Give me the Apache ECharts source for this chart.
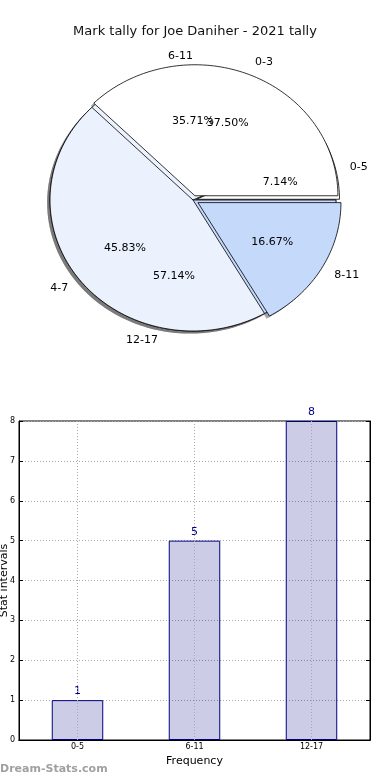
<!DOCTYPE html>
<html>
<head>
<meta charset="utf-8">
<script src="https://cdn.jsdelivr.net/npm/echarts@6/dist/echarts.min.js"></script>
<style>
html,body{margin:0;padding:0;background:#fff;}
#chart{width:390px;height:780px;}
</style>
</head>
<body>
<div id="chart"></div>
<script>
// ---- data ----
const titleText = 'Mark tally for Joe Daniher - 2021 tally';
const outerCats = ['0-3', '4-7', '8-11'];
const outerValues = [9, 11, 4];
const innerCats = ['0-5', '6-11', '12-17'];
const innerValues = [1, 5, 8];
const barCats = ['0-5', '6-11', '12-17'];
const barValues = [1, 5, 8];
const yTickMax = 8;

// ---- styles ----
const sliceColors = ['#ffffff', '#ebf1fd', '#c5d9fb'];
const outerExplode = [0.035, 0, 0.04];
const innerExplode = [0.025, 0, 0];
const FONT = 'DejaVu Sans';

function buildSlices(cats, values, explode) {
  const total = values.reduce((a, b) => a + b, 0);
  let cum = 0;
  return values.map((v, i) => {
    const t1 = cum / total * 360;
    cum += v;
    const t2 = cum / total * 360;
    const mid = (t1 + t2) / 2 * Math.PI / 180;
    return {
      name: cats[i], value: v, pct: (v / total * 100).toFixed(2) + '%',
      t1: t1, t2: t2, mid: mid,
      ex: explode[i] * Math.cos(mid), ey: explode[i] * Math.sin(mid),
      color: sliceColors[i % sliceColors.length]
    };
  });
}
const outerSlices = buildSlices(outerCats, outerValues, outerExplode);
const innerSlices = buildSlices(innerCats, innerValues, innerExplode);
const allSlices = innerSlices.concat(outerSlices);

function wedgePoints(api, s, dx, dy) {
  const steps = Math.max(2, Math.ceil((s.t2 - s.t1) / 1.5));
  const pts = [api.coord([s.ex + dx, s.ey + dy])];
  for (let k = 0; k <= steps; k++) {
    const a = (s.t1 + (s.t2 - s.t1) * k / steps) * Math.PI / 180;
    pts.push(api.coord([s.ex + dx + Math.cos(a), s.ey + dy + Math.sin(a)]));
  }
  return pts;
}
function wedgeSeries(slices, z) {
  return {
    type: 'custom', xAxisIndex: 0, yAxisIndex: 0, clip: false, silent: true, z: z,
    data: slices.map(s => ({ name: s.name, value: [0, 0, s.value] })),
    renderItem: function (params, api) {
      const s = slices[params.dataIndex];
      return { type: 'polygon', shape: { points: wedgePoints(api, s, 0, 0) },
        style: { fill: s.color, stroke: '#000', lineWidth: 0.8, lineJoin: 'miter' } };
    }
  };
}

const option = {
  animation: false,
  backgroundColor: '#fff',
  title: {
    text: titleText, left: 'center', top: 20,
    textStyle: { fontFamily: FONT, fontSize: 13, fontWeight: 'normal', color: '#111' }
  },
  graphic: [{
    type: 'text', left: 0, top: 764,
    style: { text: 'Dream-Stats.com', fill: '#a0a0a0', font: 'bold 11px "DejaVu Sans"' }
  }],
  grid: [
    { left: 50, top: 69, width: 286, height: 262, show: false, outerBoundsMode: 'none', containLabel: false },
    { left: 19, top: 421, right: 20, bottom: 40, show: true, borderColor: '#000', borderWidth: 1,
      backgroundColor: 'transparent', outerBoundsMode: 'none', containLabel: false }
  ],
  xAxis: [
    { type: 'value', gridIndex: 0, min: -1, max: 1, show: false },
    {
      type: 'category', gridIndex: 1, data: barCats,
      axisLine: { lineStyle: { color: '#000' } },
      axisTick: { inside: true, alignWithLabel: true, length: 4, lineStyle: { color: '#000' } },
      axisLabel: { fontFamily: FONT, fontSize: 8, color: '#000', margin: 3 },
      name: 'Frequency', nameLocation: 'middle', nameGap: 16, nameMoveOverlap: false,
      nameTextStyle: { fontFamily: FONT, fontSize: 11, color: '#000' }
    },
    {
      type: 'category', gridIndex: 1, data: barCats, position: 'top',
      axisLine: { lineStyle: { color: '#000' } },
      axisTick: { inside: true, alignWithLabel: true, length: 4, lineStyle: { color: '#000' } },
      axisLabel: { show: false }
    }
  ],
  yAxis: [
    { type: 'value', gridIndex: 0, min: -1, max: 1, show: false },
    {
      type: 'value', gridIndex: 1, min: 0, max: yTickMax, interval: 1,
      axisLine: { show: true, lineStyle: { color: '#000' } },
      axisTick: { show: true, inside: true, length: 4, lineStyle: { color: '#000' } },
      axisLabel: { fontFamily: FONT, fontSize: 8, color: '#000', margin: 4 },
      splitLine: { show: true, lineStyle: { color: '#a8a8a8', type: [1, 2], width: 1 } },
      name: 'Stat intervals', nameLocation: 'middle', nameGap: 9, nameRotate: 90, nameMoveOverlap: false,
      nameTextStyle: { fontFamily: FONT, fontSize: 11, color: '#000' }
    },
    {
      type: 'value', gridIndex: 1, min: 0, max: yTickMax, interval: 1, position: 'right',
      axisLine: { show: true, lineStyle: { color: '#000' } },
      axisTick: { show: true, inside: true, length: 4, lineStyle: { color: '#000' } },
      axisLabel: { show: false }, splitLine: { show: false }
    }
  ],
  series: [
    {
      type: 'custom', xAxisIndex: 0, yAxisIndex: 0, clip: false, silent: true, z: 1,
      data: allSlices.map(s => ({ name: s.name, value: [0, 0, s.value] })),
      renderItem: function (params, api) {
        const s = allSlices[params.dataIndex];
        return { type: 'polygon', shape: { points: wedgePoints(api, s, -0.02, -0.02) },
          style: { fill: 'rgba(77,77,77,0.5)', stroke: null } };
      }
    },
    wedgeSeries(innerSlices, 2),
    wedgeSeries(outerSlices, 3),
    {
      type: 'custom', xAxisIndex: 0, yAxisIndex: 0, clip: false, silent: true, z: 10,
      data: allSlices.map(s => ({ name: s.name, value: [0, 0, s.value] })),
      renderItem: function (params, api) {
        const s = allSlices[params.dataIndex];
        const c = Math.cos(s.mid), sn = Math.sin(s.mid);
        const lp = api.coord([s.ex + 1.1 * c, s.ey + 1.1 * sn]);
        const pp = api.coord([s.ex + 0.6 * c, s.ey + 0.6 * sn]);
        const xt = s.ex + 1.1 * c;
        return { type: 'group', children: [
          { type: 'text', x: lp[0], y: lp[1], style: { text: s.name, fill: '#000',
            font: '11px "DejaVu Sans"', align: xt > 1e-9 ? 'left' : 'right', verticalAlign: 'middle' } },
          { type: 'text', x: pp[0], y: pp[1], style: { text: s.pct, fill: '#000',
            font: '11px "DejaVu Sans"', align: 'center', verticalAlign: 'middle' } }
        ] };
      }
    },
    {
      type: 'bar', xAxisIndex: 1, yAxisIndex: 1, data: barValues, barWidth: '44%',
      itemStyle: { color: 'rgba(0,0,128,0.2)', borderColor: '#000080', borderWidth: 1 },
      label: { show: true, position: 'top', distance: 3, color: '#00008b', fontFamily: FONT, fontSize: 11 },
      markLine: {
        silent: true, symbol: 'none', label: { show: false },
        lineStyle: { color: '#a8a8a8', type: [1, 2], width: 1 },
        data: barCats.map(c => ({ xAxis: c }))
      }
    }
  ]
};
const chart = echarts.init(document.getElementById('chart'), null, { renderer: 'canvas' });
chart.setOption(option);
</script>
</body>
</html>
